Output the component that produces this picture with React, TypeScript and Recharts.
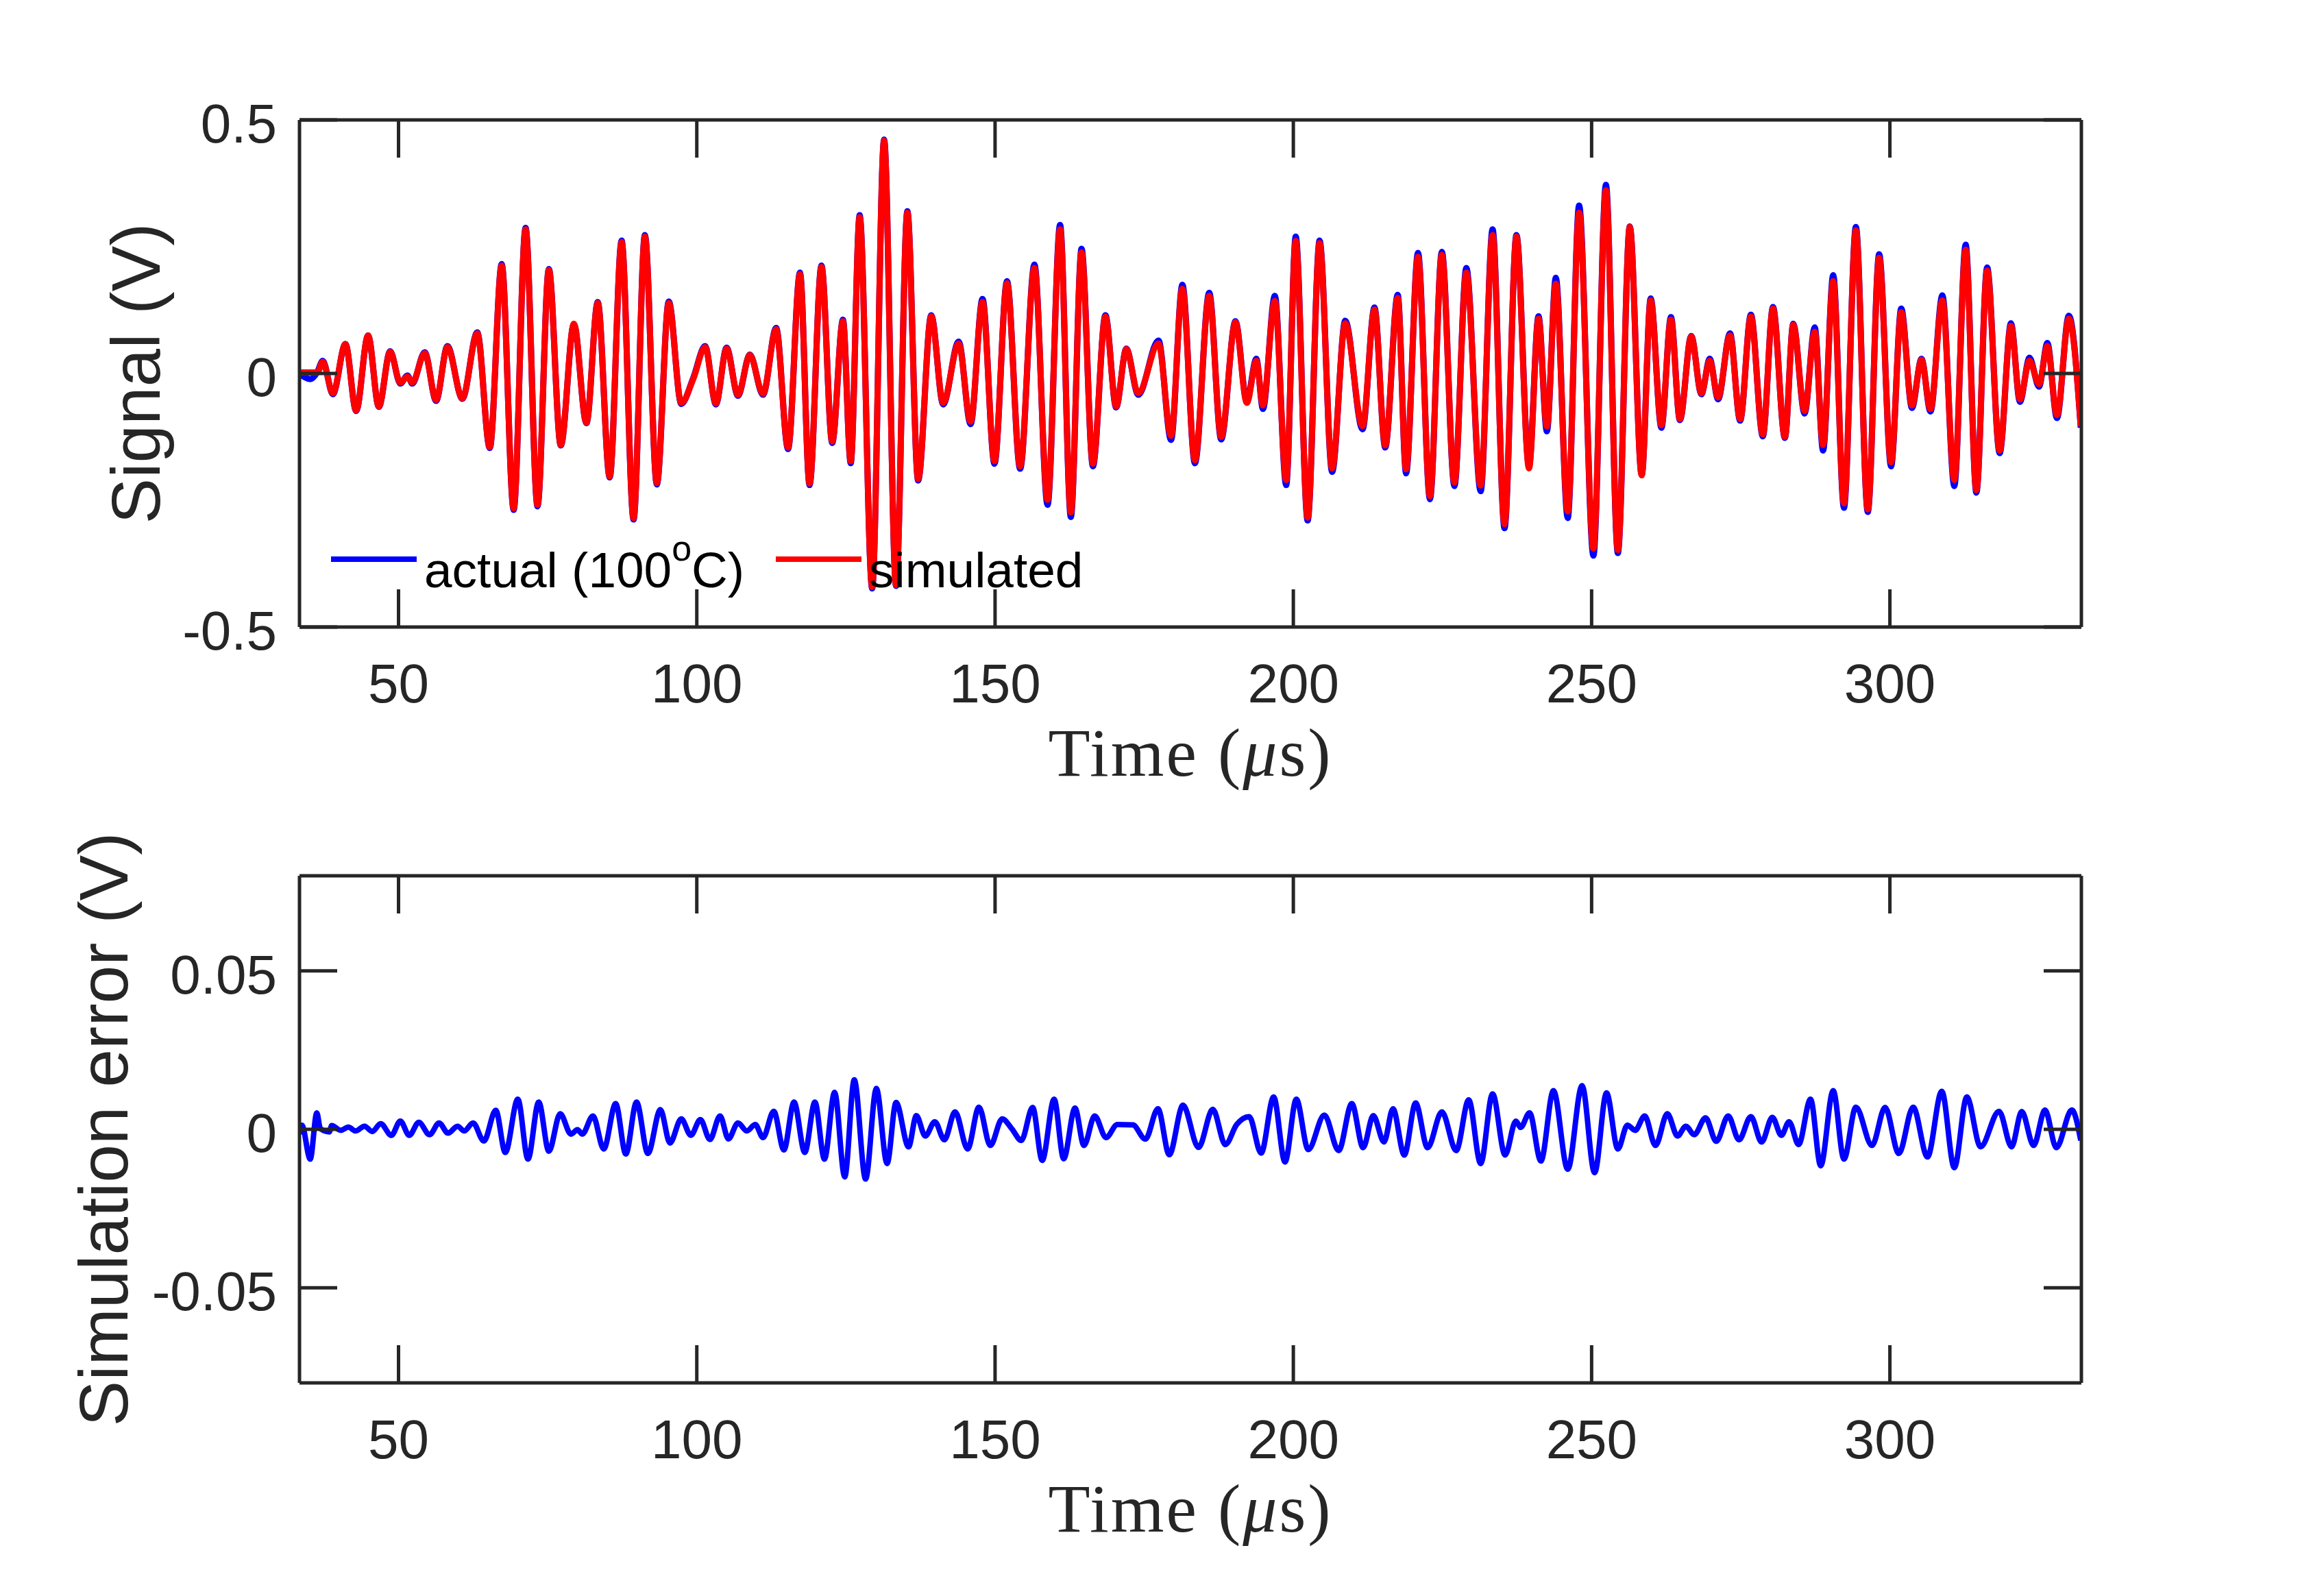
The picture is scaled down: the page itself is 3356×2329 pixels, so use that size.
import React from 'react';
import { LineChart, Line, XAxis, YAxis, Legend, Label } from 'recharts';

// upper panel: extrema of the measured and simulated signal (time in µs, volts)
const signalTime = [
  33.4, 35.2, 36.4, 37.3, 39.0, 41.1, 42.9, 44.9, 46.7, 48.6, 50.3, 51.5, 52.3, 54.4, 56.3, 58.2,
  60.7, 63.2, 65.3, 67.3, 69.3, 71.3, 73.3, 75.2, 77.2, 79.4, 81.5, 83.4, 85.4, 87.4, 89.4, 91.3,
  93.3, 95.3, 97.4, 99.4, 101.4, 103.2, 105.0, 106.9, 108.9, 111.1, 113.3, 115.3, 117.3, 118.9, 120.9, 122.7,
  124.5, 125.8, 127.3, 129.4, 131.4, 133.4, 135.3, 137.1, 139.3, 141.3, 143.9, 145.9, 147.9, 149.9, 152.0, 154.2,
  156.6, 158.8, 160.9, 162.7, 164.5, 166.4, 168.5, 170.3, 172.0, 174.0, 177.4, 179.5, 181.4, 183.5, 185.9, 187.9,
  190.3, 192.2, 193.8, 194.9, 196.9, 198.8, 200.4, 202.4, 204.4, 206.5, 208.7, 211.6, 213.6, 215.4, 217.5, 218.9,
  220.9, 222.9, 224.9, 227.0, 229.0, 231.4, 233.4, 235.4, 237.4, 239.5, 241.1, 242.5, 244.0, 246.0, 247.9, 250.3,
  252.4, 254.4, 256.4, 258.4, 259.9, 261.7, 263.3, 264.8, 266.7, 268.4, 269.8, 271.2, 273.2, 274.9, 276.7, 278.7,
  280.4, 282.4, 283.8, 285.7, 287.4, 288.8, 290.5, 292.3, 294.3, 296.3, 298.2, 300.2, 301.9, 303.7, 305.3, 306.8,
  308.8, 310.8, 312.7, 314.5, 316.3, 318.4, 320.3, 321.8, 323.4, 325.0, 326.4, 328.0, 330.0, 332.0,
];

const actualSignal = [
  0.000, -0.011, 0.003, 0.025, -0.041, 0.058, -0.074, 0.075, -0.066, 0.044, -0.020, -0.004, -0.020, 0.042, -0.054, 0.054,
  -0.050, 0.081, -0.147, 0.216, -0.269, 0.287, -0.262, 0.206, -0.142, 0.097, -0.098, 0.141, -0.205, 0.262, -0.288, 0.273,
  -0.219, 0.142, -0.060, -0.009, 0.054, -0.061, 0.051, -0.044, 0.037, -0.042, 0.090, -0.149, 0.199, -0.220, 0.213, -0.137,
  0.106, -0.177, 0.312, -0.424, 0.461, -0.419, 0.320, -0.211, 0.115, -0.061, 0.063, -0.100, 0.147, -0.178, 0.182, -0.188,
  0.215, -0.259, 0.293, -0.283, 0.246, -0.183, 0.115, -0.067, 0.049, -0.042, 0.065, -0.131, 0.175, -0.177, 0.159, -0.130,
  0.103, -0.054, 0.029, -0.070, 0.153, -0.220, 0.270, -0.290, 0.262, -0.194, 0.104, -0.110, 0.130, -0.146, 0.155, -0.197,
  0.238, -0.248, 0.240, -0.222, 0.208, -0.232, 0.284, -0.305, 0.273, -0.182, 0.113, -0.114, 0.189, -0.285, 0.331, -0.359,
  0.372, -0.354, 0.290, -0.200, 0.148, -0.107, 0.111, -0.092, 0.074, -0.041, 0.029, -0.051, 0.079, -0.093, 0.116, -0.124,
  0.131, -0.127, 0.098, -0.079, 0.091, -0.152, 0.194, -0.265, 0.289, -0.273, 0.235, -0.183, 0.128, -0.068, 0.029, -0.075,
  0.154, -0.222, 0.254, -0.235, 0.209, -0.157, 0.099, -0.056, 0.031, -0.026, 0.060, -0.088, 0.114, -0.107,
];

const simulatedSignal = [
  0.002, 0.002, 0.002, 0.023, -0.039, 0.058, -0.073, 0.075, -0.065, 0.043, -0.018, -0.006, -0.018, 0.040, -0.052, 0.052,
  -0.049, 0.079, -0.145, 0.213, -0.266, 0.284, -0.259, 0.204, -0.141, 0.098, -0.097, 0.139, -0.203, 0.259, -0.285, 0.270,
  -0.216, 0.139, -0.058, -0.011, 0.052, -0.059, 0.049, -0.042, 0.036, -0.040, 0.087, -0.146, 0.196, -0.217, 0.210, -0.134,
  0.103, -0.173, 0.308, -0.421, 0.459, -0.417, 0.317, -0.208, 0.113, -0.058, 0.059, -0.095, 0.141, -0.173, 0.178, -0.183,
  0.208, -0.249, 0.284, -0.274, 0.239, -0.178, 0.112, -0.065, 0.048, -0.039, 0.059, -0.123, 0.167, -0.171, 0.153, -0.125,
  0.101, -0.058, 0.025, -0.063, 0.143, -0.210, 0.261, -0.284, 0.257, -0.187, 0.099, -0.104, 0.126, -0.142, 0.149, -0.189,
  0.230, -0.242, 0.234, -0.215, 0.199, -0.221, 0.273, -0.297, 0.270, -0.187, 0.108, -0.104, 0.177, -0.272, 0.317, -0.345,
  0.361, -0.348, 0.289, -0.201, 0.144, -0.102, 0.106, -0.090, 0.073, -0.039, 0.025, -0.047, 0.075, -0.090, 0.112, -0.120,
  0.128, -0.125, 0.096, -0.074, 0.082, -0.141, 0.182, -0.256, 0.282, -0.268, 0.228, -0.175, 0.121, -0.063, 0.027, -0.070,
  0.144, -0.210, 0.244, -0.230, 0.203, -0.152, 0.094, -0.051, 0.025, -0.021, 0.054, -0.082, 0.108, -0.104,
];

// lower panel: extrema of the simulation error (time in µs, volts)
const errorTime = [
  33.4, 33.8, 35.2, 36.3, 36.9, 38.4, 38.8, 40.3, 41.6, 42.8, 44.3, 45.6, 47.0, 48.8, 50.3, 51.8,
  53.4, 55.2, 56.8, 58.3, 59.9, 61.0, 62.5, 64.3, 66.3, 67.9, 70.0, 71.7, 73.5, 75.2, 77.1, 78.9,
  80.0, 80.8, 82.6, 84.4, 86.4, 88.1, 89.9, 91.8, 93.9, 95.5, 97.4, 99.0, 100.6, 102.2, 103.9, 105.3,
  106.9, 108.4, 109.8, 111.1, 112.9, 114.6, 116.3, 118.1, 119.8, 121.4, 123.1, 124.8, 126.4, 128.3, 130.1, 131.9,
  133.4, 135.5, 136.8, 138.3, 139.9, 141.5, 143.3, 145.4, 147.3, 149.2, 151.2, 152.8, 154.4, 156.3, 157.9, 159.9,
  161.5, 163.4, 164.9, 166.7, 168.6, 170.5, 173.1, 175.2, 177.3, 179.2, 181.5, 184.1, 186.5, 188.6, 190.5, 192.6,
  194.6, 196.7, 198.6, 200.5, 202.5, 205.2, 207.6, 209.8, 211.7, 213.4, 215.2, 216.7, 218.6, 220.5, 222.5, 224.9,
  227.3, 229.4, 231.4, 233.4, 235.5, 237.3, 238.1, 239.6, 241.5, 243.6, 246.0, 248.4, 250.5, 252.5, 254.4, 256.0,
  257.3, 258.9, 260.7, 262.7, 264.4, 265.8, 267.2, 269.1, 270.9, 272.9, 274.7, 276.7, 278.5, 280.3, 281.8, 283.1,
  284.7, 286.7, 288.4, 290.5, 292.3, 294.3, 297.0, 299.2, 301.5, 303.9, 306.3, 308.7, 310.8, 312.9, 315.2, 318.3,
  320.4, 322.1, 324.1, 326.0, 327.9, 330.5, 332.0,
];

const simulationError = [
  -0.0015, 0.0013, -0.0094, 0.0052, 0.0002, -0.0008, 0.0012, -0.0003, 0.0007, -0.0005, 0.0010, -0.0007, 0.0018, -0.0019, 0.0026, -0.0019,
  0.0022, -0.0017, 0.0020, -0.0012, 0.0010, -0.0005, 0.0020, -0.0037, 0.0060, -0.0073, 0.0095, -0.0094, 0.0086, -0.0069, 0.0049, -0.0015,
  -0.0001, -0.0015, 0.0042, -0.0062, 0.0081, -0.0078, 0.0086, -0.0076, 0.0062, -0.0043, 0.0033, -0.0019, 0.0031, -0.0032, 0.0042, -0.0030,
  0.0020, -0.0005, 0.0015, -0.0026, 0.0057, -0.0065, 0.0086, -0.0073, 0.0086, -0.0094, 0.0117, -0.0150, 0.0156, -0.0157, 0.0129, -0.0108,
  0.0085, -0.0055, 0.0043, -0.0021, 0.0024, -0.0033, 0.0055, -0.0062, 0.0070, -0.0051, 0.0033, 0.0002, -0.0035, 0.0069, -0.0098, 0.0095,
  -0.0093, 0.0067, -0.0051, 0.0042, -0.0026, 0.0015, 0.0014, -0.0031, 0.0065, -0.0080, 0.0076, -0.0057, 0.0063, -0.0048, 0.0015, 0.0040,
  -0.0075, 0.0102, -0.0103, 0.0095, -0.0064, 0.0045, -0.0067, 0.0081, -0.0058, 0.0043, -0.0040, 0.0065, -0.0081, 0.0083, -0.0058, 0.0055,
  -0.0067, 0.0093, -0.0108, 0.0112, -0.0081, 0.0026, 0.0006, 0.0052, -0.0100, 0.0122, -0.0126, 0.0138, -0.0137, 0.0115, -0.0062, 0.0013,
  -0.0003, 0.0042, -0.0051, 0.0049, -0.0021, 0.0010, -0.0017, 0.0036, -0.0038, 0.0042, -0.0033, 0.0040, -0.0040, 0.0038, -0.0019, 0.0024,
  -0.0048, 0.0095, -0.0115, 0.0122, -0.0094, 0.0070, -0.0051, 0.0069, -0.0076, 0.0070, -0.0087, 0.0120, -0.0121, 0.0102, -0.0055, 0.0057,
  -0.0055, 0.0056, -0.0051, 0.0061, -0.0058, 0.0061, -0.0035,
];

const timeTicks = [50, 100, 150, 200, 250, 300];
const signalTicks = [-0.5, 0, 0.5];
const errorTicks = [-0.05, 0, 0.05];
const timeDomain = [33.4, 332.1];

const signalData = signalTime.map((t, i) => ({ t, actual: actualSignal[i], simulated: simulatedSignal[i] }));
const errorData = errorTime.map((t, i) => ({ t, error: simulationError[i] }));

const INK = '#262626';
const SANS = '"Liberation Sans", Arial, Helvetica, sans-serif';
const SERIF = '"Liberation Serif", "Times New Roman", serif';
const TICK_LEN = 55;
const AXIS_W = 5;

const BottomTick = (props: any) => {
  const { x, y, payload } = props;
  return (
    <g>
      <line x1={x} y1={y} x2={x} y2={y - TICK_LEN} stroke={INK} strokeWidth={AXIS_W} />
      <text x={x} y={y + 110} textAnchor="middle" fontSize={80} fontFamily={SANS} fill={INK}>
        {payload.value}
      </text>
    </g>
  );
};

const TopTick = (props: any) => {
  const { x, y } = props;
  return <line x1={x} y1={y} x2={x} y2={y + TICK_LEN} stroke={INK} strokeWidth={AXIS_W} />;
};

const LeftTick = (props: any) => {
  const { x, y, payload } = props;
  return (
    <g>
      <line x1={x} y1={y} x2={x + TICK_LEN} y2={y} stroke={INK} strokeWidth={AXIS_W} />
      <text x={x - 33} y={y + 33} textAnchor="end" fontSize={80} fontFamily={SANS} fill={INK}>
        {payload.value}
      </text>
    </g>
  );
};

const RightTick = (props: any) => {
  const { x, y } = props;
  return <line x1={x} y1={y} x2={x - TICK_LEN} y2={y} stroke={INK} strokeWidth={AXIS_W} />;
};

const timeLabel = (props: any) => {
  const vb = props.viewBox || {};
  return (
    <text
      x={vb.x + vb.width / 2}
      y={vb.y + 217}
      textAnchor="middle"
      fontSize={100}
      fontFamily={SERIF}
      letterSpacing={3}
      fill={INK}
    >
      Time (<tspan fontStyle="italic">μ</tspan>s)
    </text>
  );
};

const yLabel = (text: string, gap: number) => (props: any) => {
  const vb = props.viewBox || {};
  const bx = vb.x + vb.width - gap;
  const cy = vb.y + vb.height / 2;
  return (
    <text
      x={bx}
      y={cy}
      transform={`rotate(-90 ${bx} ${cy})`}
      textAnchor="middle"
      fontSize={100}
      fontFamily={SANS}
      fill={INK}
    >
      {text}
    </text>
  );
};

const SignalLegend = (props: any) => {
  const payload = props.payload || [];
  return (
    <svg width={1150} height={110} style={{ display: 'block', overflow: 'visible' }}>
      {payload.map((entry: any, i: number) => {
        const off = i * 649;
        const parts = String(entry.value).split('°');
        return (
          <g key={String(entry.value)}>
            <line x1={off} x2={off + 125} y1={56} y2={56} stroke={entry.color} strokeWidth={8} />
            <text x={off + 136} y={97} fontSize={73} fontFamily={SANS} fill="#000">
              {parts[0]}
              {parts.length > 1 && (
                <tspan dy={-39} fontSize={52}>
                  o
                </tspan>
              )}
              {parts.length > 1 && <tspan dy={39}>{parts[1]}</tspan>}
            </text>
          </g>
        );
      })}
    </svg>
  );
};

export default function App() {
  return (
    <div style={{ position: 'absolute', left: 0, top: 0, width: 3356, height: 2329, background: '#fff' }}>
      <div style={{ position: 'absolute', left: 0, top: 0 }}>
        <LineChart
          width={3356}
          height={1200}
          data={signalData}
          margin={{ top: 165, right: 309, bottom: 85, left: 237 }}
        >
          <XAxis
            dataKey="t"
            type="number"
            domain={timeDomain}
            ticks={timeTicks}
            allowDataOverflow
            interval={0}
            height={200}
            tickSize={0}
            tickMargin={0}
            tickLine={false}
            tick={BottomTick}
            axisLine={{ stroke: INK, strokeWidth: AXIS_W }}
          >
            <Label content={timeLabel} />
          </XAxis>
          <XAxis
            xAxisId="top"
            orientation="top"
            dataKey="t"
            type="number"
            domain={timeDomain}
            ticks={timeTicks}
            allowDataOverflow
            interval={0}
            height={10}
            tickSize={0}
            tickMargin={0}
            tickLine={false}
            tick={TopTick}
            axisLine={{ stroke: INK, strokeWidth: AXIS_W }}
          />
          <YAxis
            type="number"
            domain={[-0.5, 0.5]}
            ticks={signalTicks}
            allowDataOverflow
            interval={0}
            width={200}
            tickSize={0}
            tickMargin={0}
            tickLine={false}
            tick={LeftTick}
            axisLine={{ stroke: INK, strokeWidth: AXIS_W }}
          >
            <Label content={yLabel('Signal (V)', 204)} />
          </YAxis>
          <YAxis
            yAxisId="right"
            orientation="right"
            type="number"
            domain={[-0.5, 0.5]}
            ticks={signalTicks}
            allowDataOverflow
            interval={0}
            width={10}
            tickSize={0}
            tickMargin={0}
            tickLine={false}
            tick={RightTick}
            axisLine={{ stroke: INK, strokeWidth: AXIS_W }}
          />
          <Legend
            layout="horizontal"
            verticalAlign="middle"
            align="center"
            content={SignalLegend}
            wrapperStyle={{ left: 483, top: 760, width: 1150, height: 110 }}
          />
          <Line
            name="actual (100°C)"
            dataKey="actual"
            type="monotoneX"
            stroke="#0000ff"
            strokeWidth={9}
            strokeLinejoin="round"
            dot={false}
            activeDot={false}
            isAnimationActive={false}
          />
          <Line
            name="simulated"
            dataKey="simulated"
            type="monotoneX"
            stroke="#ff0000"
            strokeWidth={9}
            strokeLinejoin="round"
            dot={false}
            activeDot={false}
            isAnimationActive={false}
          />
        </LineChart>
      </div>

      <div style={{ position: 'absolute', left: 0, top: 1160 }}>
        <LineChart
          width={3356}
          height={1169}
          data={errorData}
          margin={{ top: 108, right: 309, bottom: 111, left: 237 }}
        >
          <XAxis
            dataKey="t"
            type="number"
            domain={timeDomain}
            ticks={timeTicks}
            allowDataOverflow
            interval={0}
            height={200}
            tickSize={0}
            tickMargin={0}
            tickLine={false}
            tick={BottomTick}
            axisLine={{ stroke: INK, strokeWidth: AXIS_W }}
          >
            <Label content={timeLabel} />
          </XAxis>
          <XAxis
            xAxisId="top"
            orientation="top"
            dataKey="t"
            type="number"
            domain={timeDomain}
            ticks={timeTicks}
            allowDataOverflow
            interval={0}
            height={10}
            tickSize={0}
            tickMargin={0}
            tickLine={false}
            tick={TopTick}
            axisLine={{ stroke: INK, strokeWidth: AXIS_W }}
          />
          <YAxis
            type="number"
            domain={[-0.08, 0.08]}
            ticks={errorTicks}
            allowDataOverflow
            interval={0}
            width={200}
            tickSize={0}
            tickMargin={0}
            tickLine={false}
            tick={LeftTick}
            axisLine={{ stroke: INK, strokeWidth: AXIS_W }}
          >
            <Label content={yLabel('Simulation error (V)', 251)} />
          </YAxis>
          <YAxis
            yAxisId="right"
            orientation="right"
            type="number"
            domain={[-0.08, 0.08]}
            ticks={errorTicks}
            allowDataOverflow
            interval={0}
            width={10}
            tickSize={0}
            tickMargin={0}
            tickLine={false}
            tick={RightTick}
            axisLine={{ stroke: INK, strokeWidth: AXIS_W }}
          />
          <Line
            name="error"
            dataKey="error"
            type="monotoneX"
            stroke="#0000ff"
            strokeWidth={8}
            strokeLinejoin="round"
            dot={false}
            activeDot={false}
            isAnimationActive={false}
          />
        </LineChart>
      </div>
    </div>
  );
}
